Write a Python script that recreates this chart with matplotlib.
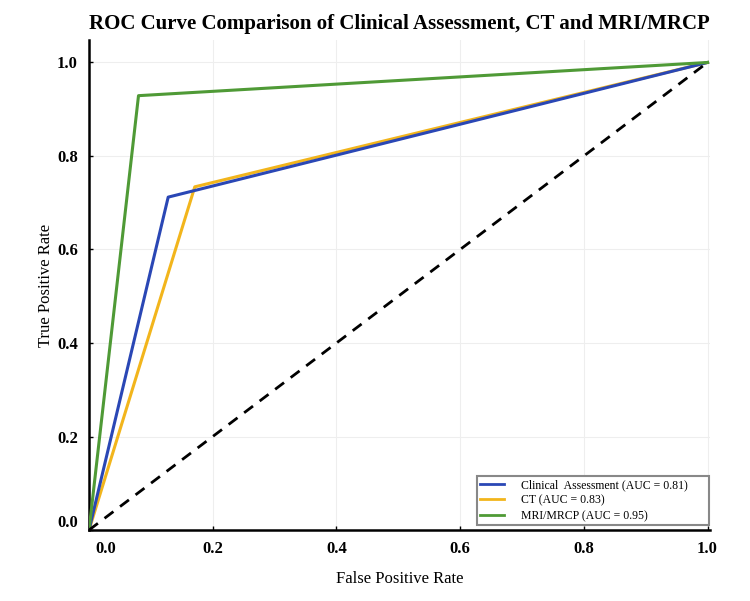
import matplotlib
matplotlib.use("Agg")
import matplotlib.pyplot as plt
from matplotlib.transforms import ScaledTranslation

clin_fpr = [0.0, 0.128, 1.0]
clin_tpr = [0.0, 0.712, 1.0]
ct_fpr = [0.0, 0.171, 1.0]
ct_tpr = [0.0, 0.734, 1.0]
mri_fpr = [0.0, 0.080, 1.0]
mri_tpr = [0.0, 0.929, 1.0]
labels = ["Clinical  Assessment (AUC = 0.81)", "CT (AUC = 0.83)", "MRI/MRCP (AUC = 0.95)"]
ticks = [0.0, 0.2, 0.4, 0.6, 0.8, 1.0]

plt.rcParams['font.family'] = ['Liberation Serif', 'DejaVu Serif']

fig = plt.figure(figsize=(7.5, 6.01), dpi=100)
ax = fig.add_axes([0.1187, 0.1181, 0.828, 0.8153])

ax.plot(clin_fpr, clin_tpr, color="#2a47b5", lw=2.2, label=labels[0] + "      ", zorder=3)
ax.plot(ct_fpr, ct_tpr, color="#f2b51c", lw=2.2, label=labels[1], zorder=2)
ax.plot(mri_fpr, mri_tpr, color="#4f9a36", lw=2.2, label=labels[2], zorder=4)
ax.plot([0, 1], [0, 1], color="black", lw=2, ls=(0, (4, 3)), zorder=5)

ax.set_xlim(0, 1.004)
ax.set_ylim(0, 1.048)
ax.set_xticks(ticks)
ax.set_yticks(ticks)
ax.set_xticklabels([f"{t:.1f}" for t in ticks], fontweight="bold", fontsize=12)
ax.set_yticklabels([f"{t:.1f}" for t in ticks], fontweight="bold", fontsize=12)
ax.tick_params(direction="in", length=3, width=1, pad=8)
ax.grid(True, color="#eeeeee", lw=0.8)
ax.set_axisbelow(True)
for s in ["top", "right"]:
    ax.spines[s].set_visible(False)
for s in ["left", "bottom"]:
    ax.spines[s].set_linewidth(1.8)

# first tick labels offset as in the original
xl0 = ax.get_xticklabels()[0]
xl0.set_transform(xl0.get_transform() + ScaledTranslation(17 / 100, 0, fig.dpi_scale_trans))
yl0 = ax.get_yticklabels()[0]
yl0.set_transform(yl0.get_transform() + ScaledTranslation(0, 9 / 100, fig.dpi_scale_trans))

ax.set_xlabel("False Positive Rate", fontsize=12, labelpad=10)
ax.set_ylabel("True Positive Rate", fontsize=12, labelpad=2)
ax.set_title("ROC Curve Comparison of Clinical Assessment, CT and MRI/MRCP",
             fontsize=15, fontweight="bold", pad=8)

leg = ax.legend(loc="lower right", fontsize=8.5, frameon=True, fancybox=False,
                edgecolor="#888888", framealpha=1, borderpad=0.25, labelspacing=0.3,
                handlelength=2.0, handletextpad=1.45, borderaxespad=0,
                bbox_to_anchor=(0.998, 0.01))
leg.get_frame().set_linewidth(1.5)
for h in leg.get_lines():
    h.set_linewidth(2.0)

fig.savefig("out.png", dpi=100)
